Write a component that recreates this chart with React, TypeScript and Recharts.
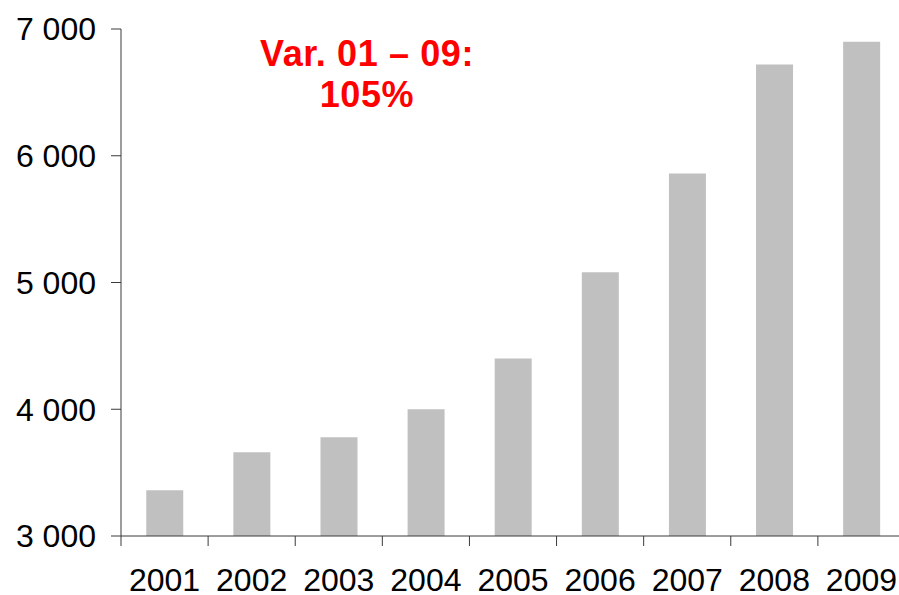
import React from 'react';
import { BarChart, Bar, XAxis, YAxis } from 'recharts';

// values
const years = ['2001', '2002', '2003', '2004', '2005', '2006', '2007', '2008', '2009'];
const totals = [3360, 3660, 3780, 4000, 4400, 5080, 5860, 6720, 6900];
const yTicks = [3000, 4000, 5000, 6000, 7000];
const noteLines = ['Var. 01 – 09:', '105%'];

const data = years.map((year, i) => ({ year, total: totals[i] }));

const FONT = '"Liberation Sans", Arial, sans-serif';
const AXIS_COLOR = '#3a3a3a';
const CHART_W = 905;
const Y_AXIS_W = 121;
const PLOT_W = CHART_W - Y_AXIS_W;

const formatThousands = (v: number) =>
  String(v).replace(/\B(?=(\d{3})+(?!\d))/g, ' ');

// label centred on the category, tick mark on the category's left boundary
const YearTick = (props: any) => {
  const { x, y, payload } = props;
  const half = payload?.offset ?? PLOT_W / years.length / 2;
  return (
    <g>
      <line x1={x - half} x2={x - half} y1={y} y2={y + 10} stroke={AXIS_COLOR} strokeWidth={1} />
      <text x={x} y={y + 55} textAnchor="middle" fontSize={32} fontFamily={FONT} fill="#000">
        {payload.value}
      </text>
    </g>
  );
};

export default function App() {
  return (
    <div
      style={{
        position: 'absolute',
        left: 0,
        top: 0,
        width: 899,
        height: 595,
        overflow: 'hidden',
        background: '#fff',
      }}
    >
      <BarChart
        width={CHART_W}
        height={595}
        data={data}
        margin={{ top: 29, right: 0, left: 0, bottom: 0 }}
        barCategoryGap="29%"
      >
        <XAxis
          dataKey="year"
          height={59}
          tickLine={false}
          tickSize={0}
          tickMargin={0}
          interval={0}
          axisLine={{ stroke: AXIS_COLOR, strokeWidth: 1 }}
          tick={<YearTick />}
        />
        <YAxis
          width={Y_AXIS_W}
          domain={[3000, 7000]}
          ticks={yTicks}
          tickFormatter={formatThousands}
          tickSize={10}
          tickMargin={15}
          axisLine={{ stroke: AXIS_COLOR, strokeWidth: 1 }}
          tickLine={{ stroke: AXIS_COLOR, strokeWidth: 1 }}
          tick={{ fontSize: 32, fontFamily: FONT, fill: '#000' }}
        />
        <Bar dataKey="total" fill="#c0c0c0" isAnimationActive={false} />
      </BarChart>
      <div
        style={{
          position: 'absolute',
          left: 217,
          top: 33,
          width: 300,
          textAlign: 'center',
          fontFamily: FONT,
          fontWeight: 'bold',
          fontSize: 36,
          letterSpacing: 0.6,
          lineHeight: '41px',
          color: '#ff0000',
        }}
      >
        {noteLines.map((line) => (
          <div key={line}>{line}</div>
        ))}
      </div>
    </div>
  );
}
